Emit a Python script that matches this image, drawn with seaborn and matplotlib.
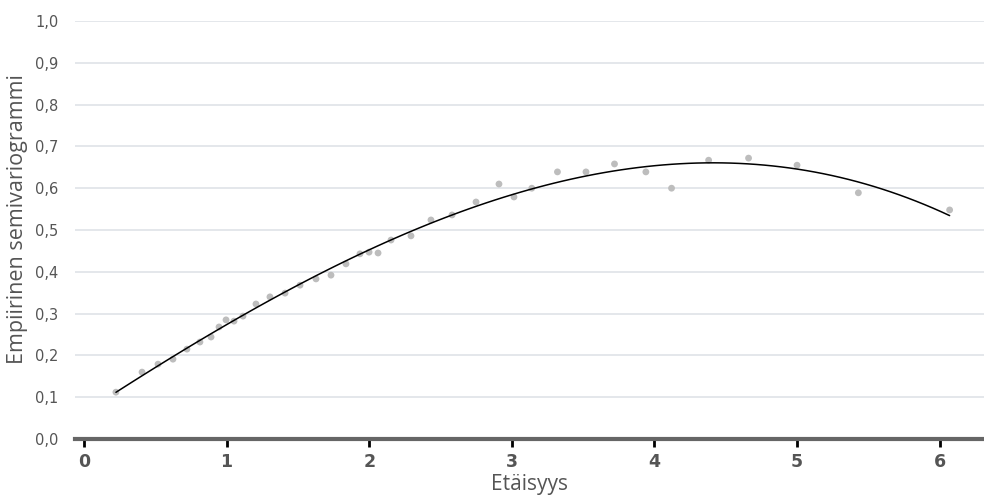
import numpy as np
import pandas as pd
import seaborn as sns
import matplotlib
matplotlib.use("Agg")
import matplotlib.pyplot as plt
from matplotlib.ticker import FuncFormatter

etaisyys = [0.224, 0.407, 0.519, 0.624, 0.722, 0.813, 0.891, 0.947, 0.996, 1.052,
            1.115, 1.206, 1.304, 1.41, 1.515, 1.627, 1.732, 1.837, 1.935, 1.999,
            2.062, 2.153, 2.293, 2.433, 2.581, 2.749, 2.91, 3.015, 3.14, 3.32,
            3.52, 3.72, 3.94, 4.12, 4.38, 4.66, 5.0, 5.43, 6.07]
semivariogrammi = [0.112, 0.160, 0.179, 0.191, 0.215, 0.232, 0.244, 0.268, 0.285, 0.282,
                   0.294, 0.323, 0.340, 0.349, 0.368, 0.383, 0.392, 0.419, 0.443, 0.447,
                   0.445, 0.476, 0.486, 0.524, 0.536, 0.567, 0.610, 0.579, 0.600, 0.639,
                   0.639, 0.658, 0.639, 0.600, 0.667, 0.672, 0.655, 0.589, 0.548]
x_ticks = [0, 1, 2, 3, 4, 5, 6]
y_ticks = [0.0, 0.1, 0.2, 0.3, 0.4, 0.5, 0.6, 0.7, 0.8, 0.9, 1.0]

df = pd.DataFrame({"x": etaisyys, "y": semivariogrammi})

sns.set_style("white")
plt.rcParams["font.family"] = ["DejaVu Sans"]

fig = plt.figure(figsize=(9.84, 4.98), dpi=100)
ax = fig.add_axes([75/984, 59/498, 1 - 75/984, 418/498])

for yv in y_ticks[1:]:
    ax.axhline(yv, color="#dfe3e8", lw=1.2, zorder=0)

sns.scatterplot(data=df, x="x", y="y", color="#bdbdbd", s=24, edgecolor="none", ax=ax, zorder=2)
sns.regplot(data=df, x="x", y="y", order=3, ci=None, scatter=False,
            line_kws={"color": "black", "lw": 1.1, "zorder": 3}, ax=ax)

ax.set_xlim(-0.063, 6.311)
ax.set_ylim(0, 1.0)
ax.set_xticks(x_ticks)
ax.set_yticks(y_ticks)
ax.yaxis.set_major_formatter(FuncFormatter(lambda v, p: f"{v:.1f}".replace(".", ",")))

for s in ["top", "right", "left"]:
    ax.spines[s].set_visible(False)
ax.spines["bottom"].set_color("#666666")
ax.spines["bottom"].set_linewidth(3)

ax.tick_params(axis="x", bottom=True, direction="out", length=6, width=2, color="black",
               labelsize=12.5, labelcolor="#555555", pad=4)
for lab in ax.get_xticklabels():
    lab.set_fontweight("bold")
    lab.set_family("DejaVu Sans")
ax.tick_params(axis="y", left=False, length=0, labelsize=10.5, labelcolor="#555555", pad=12)
for lab in ax.get_yticklabels():
    lab.set_family("DejaVu Sans")

ax.set_xlabel("Etäisyys", fontsize=15, color="#555555", family=["Open Sans", "DejaVu Sans"], labelpad=2)
ax.set_ylabel("Empiirinen semivariogrammi", fontsize=15.5, color="#555555",
              family=["Open Sans", "DejaVu Sans"])
ax.yaxis.set_label_coords(-0.052, 0.526)

fig.savefig("out.png", dpi=100)
